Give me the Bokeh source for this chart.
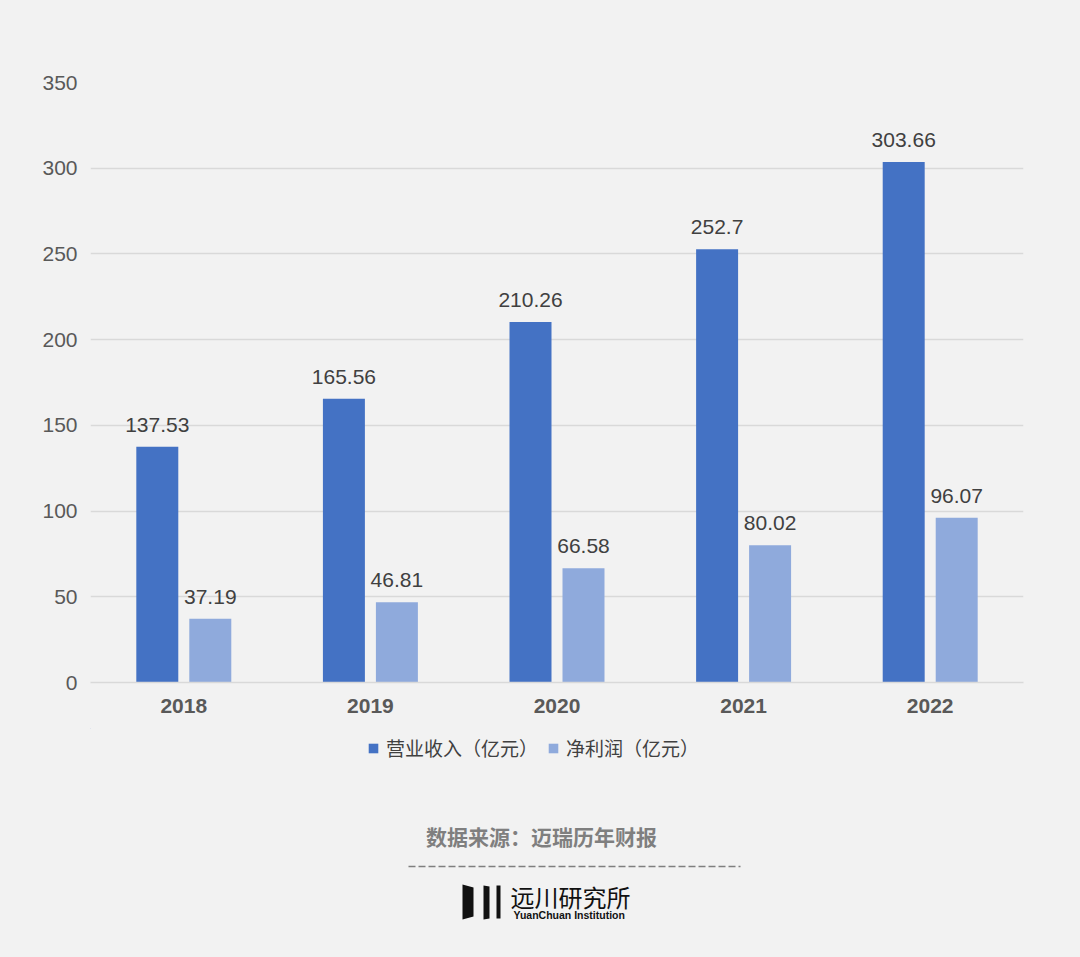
from bokeh.plotting import figure
from bokeh.models import (ColumnDataSource, Range1d, FactorRange, FixedTicker, LabelSet,
                          Legend, LegendItem)
from bokeh.transform import dodge
from bokeh.layouts import column
from bokeh.embed import file_html
from bokeh.resources import INLINE
from bokeh.core.properties import value

years = ["2018", "2019", "2020", "2021", "2022"]
revenue = [137.53, 165.56, 210.26, 252.7, 303.66]
profit = [37.19, 46.81, 66.58, 80.02, 96.07]
revenue_labels = ["137.53", "165.56", "210.26", "252.7", "303.66"]
profit_labels = ["37.19", "46.81", "66.58", "80.02", "96.07"]
y_ticks = [0, 50, 100, 150, 200, 250, 300, 350]
series_names = ["营业收入（亿元）", "净利润（亿元）"]
source_text = "数据来源：迈瑞历年财报"

BG = "#f2f2f2"
C1 = "#4472c4"
C2 = "#8faadc"
NUM_FONT = "Liberation Sans"
CJK_FONT = "Noto Sans CJK SC"

src = ColumnDataSource(dict(year=years, rev=revenue, pro=profit,
                            rl=revenue_labels, pl=profit_labels))

# main chart: page y 8..728, frame page x 90..1023, y 82..682
p = figure(x_range=FactorRange(*years), y_range=Range1d(0, 350),
           width=1064, height=720, output_backend="svg", toolbar_location=None,
           min_border_left=82, min_border_right=49, min_border_top=74, min_border_bottom=46)
p.background_fill_color = BG
p.border_fill_color = BG
p.outline_line_color = None

r1 = p.vbar(x=dodge("year", -0.142, range=p.x_range), top="rev", width=0.225,
            source=src, fill_color=C1, line_color=None)
r2 = p.vbar(x=dodge("year", 0.142, range=p.x_range), top="pro", width=0.225,
            source=src, fill_color=C2, line_color=None)

for xo, col, lab in [(-0.142, "rev", "rl"), (0.142, "pro", "pl")]:
    ls = LabelSet(x=dodge("year", xo, range=p.x_range), y=col, text=lab, source=src,
                  text_align="center", text_baseline="bottom", y_offset=15,
                  text_font=value(NUM_FONT), text_font_size="21px", text_color="#404040")
    p.add_layout(ls)

p.yaxis.ticker = FixedTicker(ticks=y_ticks)
p.yaxis.axis_line_color = None
p.yaxis.major_tick_line_color = None
p.yaxis.minor_tick_line_color = None
p.yaxis.major_label_text_font = NUM_FONT
p.yaxis.major_label_text_font_size = "21px"
p.yaxis.major_label_text_color = "#595959"
p.yaxis.major_label_standoff = 7

p.xaxis.axis_line_color = "#d9d9d9"
p.xaxis.axis_line_width = 1.5
p.xaxis.major_tick_line_color = None
p.xaxis.minor_tick_line_color = None
p.xaxis.major_label_text_font = NUM_FONT
p.xaxis.major_label_text_font_style = "bold"
p.xaxis.major_label_text_font_size = "21px"
p.xaxis.major_label_text_color = "#595959"
p.xaxis.major_label_standoff = 10

p.xgrid.grid_line_color = None
p.ygrid.grid_line_color = "#d9d9d9"
p.ygrid.grid_line_width = 1.5

# footer: page y 728..949, coordinates in page pixels
f = figure(x_range=Range1d(90, 1023), y_range=Range1d(949, 728),
           width=1064, height=221, output_backend="svg", toolbar_location=None,
           min_border_left=82, min_border_right=49, min_border_top=0, min_border_bottom=0)
f.background_fill_color = BG
f.border_fill_color = BG
f.outline_line_color = None
f.axis.visible = False
f.grid.visible = False

# legend key renderers (placed outside the visible range; only their swatches show)
k1 = f.vbar(x=[0], top=[0], bottom=[1], width=1, fill_color=C1, line_color=None)
k2 = f.vbar(x=[0], top=[0], bottom=[1], width=1, fill_color=C2, line_color=None)
legend = Legend(items=[LegendItem(label=series_names[0], renderers=[k1]),
                       LegendItem(label=series_names[1], renderers=[k2])],
                orientation="horizontal", location=(277, 188),
                label_text_font=CJK_FONT, label_text_font_size="19px",
                label_text_color="#404040", glyph_width=12, glyph_height=12,
                label_standoff=7, spacing=9, padding=0, margin=0,
                background_fill_alpha=0, border_line_color=None)
f.add_layout(legend, "center")

f.text(x=[541], y=[835], text=[source_text], text_align="center", text_baseline="middle",
       text_font=value(CJK_FONT), text_font_size="21px", text_font_style="bold",
       text_color="#7f7f7f")
f.line(x=[408, 740], y=[866, 866], line_color="#7f7f7f", line_width=1.5, line_dash="7 3")
# logo marks
f.patches(xs=[[462, 473, 473, 462], [483, 489, 489, 483], [496, 500, 500, 496]],
          ys=[[884, 887, 916, 919], [885, 886, 918, 919], [885, 885, 918, 918]],
          fill_color="#111111", line_color=None)
f.text(x=[510], y=[896], text=["远川研究所"], text_align="left", text_baseline="middle",
       text_font=value(CJK_FONT), text_font_size="24px", text_font_style="normal",
       text_color="#111111")
f.text(x=[513], y=[914.5], text=["YuanChuan Institution"], text_align="left",
       text_baseline="middle", text_font=value(NUM_FONT), text_font_size="10.5px",
       text_font_style="bold", text_color="#111111")

layout = column(p, f, spacing=0)
html = file_html(layout, INLINE)
html = html.replace("<body>", '<body style="background:#f2f2f2;margin:8px">')
open("out.html", "w").write(html)
